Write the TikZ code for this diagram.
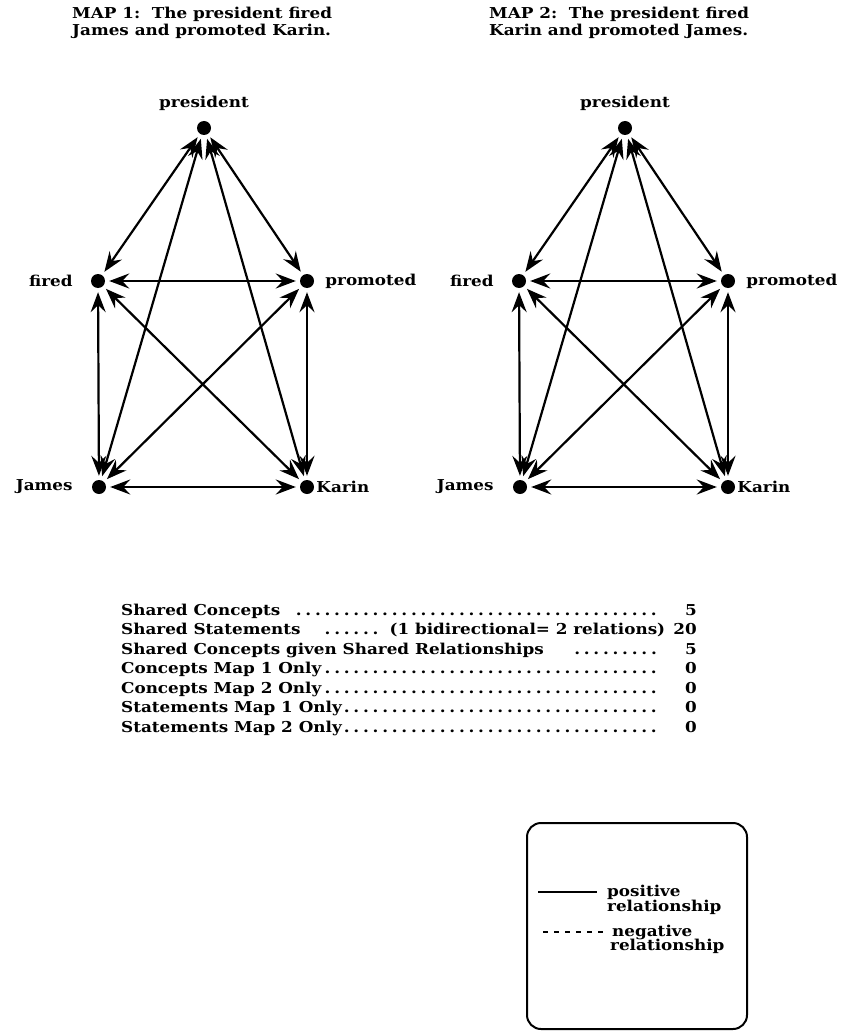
\documentclass[tikz,border=0pt]{standalone}
\usepackage{fontspec}
\setmainfont{DejaVu Serif}[FakeStretch=1.12]
\usetikzlibrary{arrows.meta}
\newcommand\dotrow{\leaders\hbox to 9.6pt{\hss.\hss}\hfill}
\tikzset{
  concept/.style={circle,fill,inner sep=0pt,minimum size=14pt},
  tag/.style={font=\bfseries\fontsize{15}{17}\selectfont,inner sep=0pt},
  relation/.style={line width=2.2pt,{Stealth[length=20pt,width=15pt,inset=7pt]}-{Stealth[length=20pt,width=15pt,inset=7pt]},shorten <=4pt,shorten >=4pt},
}
\begin{document}
\begin{tikzpicture}[x=1pt,y=-1pt]
\useasboundingbox (0,0) rectangle (841,1032);
% titles
\node[tag,anchor=base west] (title1a) at (72,19) {MAP 1:\ \ The president fired};
\node[tag,anchor=base west] (title1b) at (72,36) {James and promoted Karin.};
\node[tag,anchor=base west] (title2a) at (489,19) {MAP 2:\ \ The president fired};
\node[tag,anchor=base west] (title2b) at (489,36) {Karin and promoted James.};
% the two maps
\foreach \m/\dx in {1/0,2/421} {
  \node[concept,label={[tag,label distance=10pt]above:president}] (pres\m) at (204+\dx,128) {};
  \node[concept,label={[tag,label distance=18pt]left:fired}] (fired\m) at (98+\dx,281) {};
  \node[concept,label={[tag,label distance=11pt]right:promoted}] (prom\m) at (307+\dx,281) {};
  \node[concept,label={[tag,label distance=19pt]left:James}] (james\m) at (99+\dx,487) {};
  \node[concept,label={[tag,label distance=2pt]right:Karin}] (karin\m) at (307+\dx,487) {};
  \foreach \a/\b in {pres/fired,pres/prom,pres/james,pres/karin,fired/prom,fired/james,fired/karin,prom/james,prom/karin,james/karin}
    \draw[relation] (\a\m) -- (\b\m);
}
% comparison table
\foreach \i/\txt/\num in {0/{Shared Concepts \dotrow}/5,
    1/{Shared Statements \quad\dotrow\ (1 bidirectional= 2 relations)}/20,
    2/{Shared Concepts given Shared Relationships \quad\dotrow}/5,
    3/{Concepts Map 1 Only\dotrow}/0,
    4/{Concepts Map 2 Only\dotrow}/0,
    5/{Statements Map 1 Only\dotrow}/0,
    6/{Statements Map 2 Only\dotrow}/0} {
  \node[tag,anchor=base west] (row\i) at (121,615+19.5*\i) {\hbox to 544pt{\txt}};
  \node[tag,anchor=base east] (num\i) at (697,615+19.5*\i) {\num};
}
% legend
\draw[line width=2pt,rounded corners=14pt] (527,823) rectangle (747,1029);
\node[tag,anchor=base west] (posA) at (607,896) {positive};
\node[tag,anchor=base west] (posB) at (607,911) {relationship};
\node[tag,anchor=base west] (negA) at (612,936) {negative};
\node[tag,anchor=base west] (negB) at (610,950) {relationship};
\coordinate (solidL) at (538,892);
\coordinate (solidR) at (597,892);
\coordinate (dashL) at (543,932);
\coordinate (dashR) at (603,932);
\draw[line width=2.2pt] (solidL) -- (solidR);
\draw[line width=2pt,dash pattern=on 5pt off 6pt] (dashL) -- (dashR);
\end{tikzpicture}
\end{document}
